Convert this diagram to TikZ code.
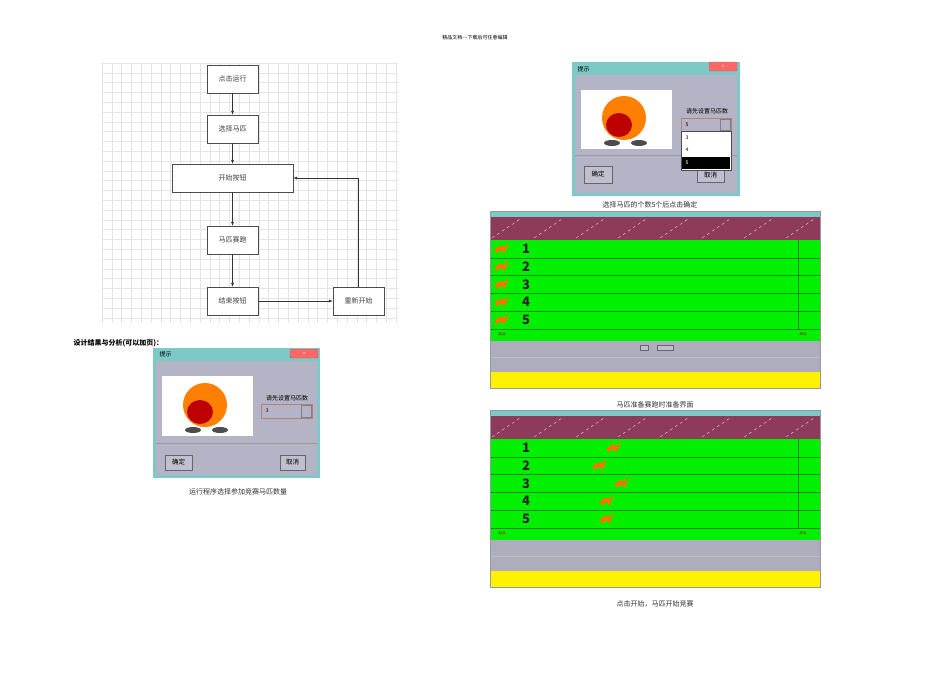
\documentclass[tikz,border=0pt]{standalone}
\usepackage{fontspec}
\newfontfamily\cjk{Noto Sans CJK SC}
\usetikzlibrary{arrows.meta}
\definecolor{dlgbg}{HTML}{B4B4C6}
\definecolor{dlgframe}{HTML}{7FC8C8}
\definecolor{maroon1}{HTML}{8E3A5A}
\definecolor{raceGreen}{HTML}{00F000}
\definecolor{raceGray}{HTML}{ADADBD}
\tikzset{
 flowbox/.style={draw=black!70,fill=white,minimum height=28pt,inner sep=0pt,font=\cjk\fontsize{7}{8}\selectfont,text=black!75},
 flowarrow/.style={-{Latex[length=4pt,width=3pt]},black!80,line width=0.5pt},
 caption/.style={font=\cjk\fontsize{7}{8}\selectfont,text=black!80},
 btn/.style={draw=black!60,fill=dlgbg!85,font=\cjk\fontsize{6.5}{7}\selectfont,inner sep=0pt},
 lanenum/.style={font=\cjk\bfseries\fontsize{13}{14}\selectfont,text=black!85},
 tiny/.style={font=\cjk\fontsize{3.5}{4}\selectfont,text=red!70!black},
 horse/.pic={\fill[orange!90!red] (-6,2) .. controls (-3,-4) and (3,-4) .. (5,-2) -- (7,-6) -- (8,-4) -- (6,1) -- (4,5) -- (3,2) -- (-1,2) -- (-3,5) -- (-4,2) -- cycle;}
}
\begin{document}
\begin{tikzpicture}[x=1pt,y=-1pt]
\useasboundingbox (0,0) rectangle (950,672);
\fill[white] (0,0) rectangle (950,672);
\node[font=\cjk\fontsize{5}{6}\selectfont] (hdr) at (475,38) {精品文档---下载后可任意编辑};
% grid
\foreach \gx in {0,...,30} {\draw[black!10,line width=0.4pt] (102+\gx*9.8,63) -- (102+\gx*9.8,323);}
\foreach \gy in {0,...,26} {\draw[black!10,line width=0.4pt] (102,63+\gy*9.8) -- (398,63+\gy*9.8);}
\node[flowbox,minimum width=51pt] (n1) at (232.5,79) {点击运行};
\node[flowbox,minimum width=51pt] (n2) at (232.5,129) {选择马匹};
\node[flowbox,minimum width=121pt] (n3) at (232.5,178) {开始按钮};
\node[flowbox,minimum width=51pt] (n4) at (232.5,240) {马匹赛跑};
\node[flowbox,minimum width=51pt] (n5) at (232.5,301) {结束按钮};
\node[flowbox,minimum width=51pt] (n6) at (358.5,301) {重新开始};
\draw[flowarrow] (n1) -- (n2);
\draw[flowarrow] (n2) -- (n3);
\draw[flowarrow] (n3) -- (n4);
\draw[flowarrow] (n4) -- (n5);
\draw[flowarrow] (n5) -- (n6);
\draw[flowarrow] (n6.north) |- (n3.east);
\node[anchor=west,font=\cjk\bfseries\fontsize{7}{8}\selectfont] (sec) at (70,343) {设计结果与分析(可以加页)：};
% dialog 1
\fill[dlgframe] (153,348) rectangle (320,478);
\fill[dlgbg] (156,361) rectangle (317,475);
\node[anchor=west,font=\cjk\fontsize{6}{7}\selectfont] (t1) at (156,354) {提示};
\fill[red!60!white,draw=black!50,rounded corners=1pt] (290,349) rectangle (318,358);
\node[font=\sffamily\fontsize{5}{5}\selectfont,text=white] (x1) at (304,353.5) {x};
\fill[white] (162,376) rectangle (253,436);
\fill[orange] (205,405) ellipse (22 and 22);
\fill[red!75!black] (200,412) ellipse (13 and 12);
\fill[black!70] (193,430) ellipse (8 and 3);\fill[black!70] (220,430) ellipse (8 and 3);
\node[font=\cjk\fontsize{6}{7}\selectfont] (l1) at (287,398) {请先设置马匹数};
\draw[red!40!black!50,fill=dlgbg] (261,404) rectangle (312,418);
\node[anchor=west,font=\sffamily\fontsize{5.5}{6}\selectfont] (c1) at (262,411) {3};
\draw[black!50] (301,405) rectangle (311,417);
\draw[black!40] (156,443) -- (317,443);
\node[btn,minimum width=27pt,minimum height=15pt] (b1) at (178.5,462.5) {确定};
\node[btn,minimum width=25pt,minimum height=15pt] (b2) at (292.5,462.5) {取消};
\node[caption] (cap1) at (238,492) {运行程序选择参加竞赛马匹数量};
% dialog 2
\fill[dlgframe] (572,62) rectangle (740,196);
\fill[dlgbg] (575,75) rectangle (737,193);
\node[anchor=west,font=\cjk\fontsize{6}{7}\selectfont] (t2) at (574,69) {提示};
\fill[red!60!white,draw=black!50,rounded corners=1pt] (709,62) rectangle (737,71);
\node[font=\sffamily\fontsize{5}{5}\selectfont,text=white] (x2) at (723,66.5) {x};
\fill[white] (581,90) rectangle (672,149);
\fill[orange] (624,118) ellipse (22 and 22);
\fill[red!75!black] (619,125) ellipse (13 and 12);
\fill[black!70] (612,143) ellipse (8 and 3);\fill[black!70] (639,143) ellipse (8 and 3);
\draw[black!40] (575,155) -- (737,155);
\node[btn,minimum width=28pt,minimum height=17pt] (b3) at (598,174.5) {确定};
\node[btn,minimum width=27pt,minimum height=15pt] (b4) at (710.5,175) {取消};
\node[font=\cjk\fontsize{6}{7}\selectfont] (l2) at (707,111) {请先设置马匹数};
\draw[red!40!black!50,fill=dlgbg] (681,118) rectangle (731,131);
\node[anchor=west,font=\sffamily\fontsize{5.5}{6}\selectfont] (c2) at (682,124.5) {5};
\draw[black!50] (720,119) rectangle (730,130);
\draw[black!70,fill=white] (681,131) rectangle (731,170);
\fill[black] (682,157) rectangle (730,169);
\node[anchor=west,font=\sffamily\fontsize{5.5}{6}\selectfont] (o3) at (682,138) {3};
\node[anchor=west,font=\sffamily\fontsize{5.5}{6}\selectfont] (o4) at (682,150) {4};
\node[anchor=west,font=\sffamily\fontsize{5.5}{6}\selectfont,text=white] (o5) at (682,163) {5};
\node[caption] (cap2) at (650,205) {选择马匹的个数5个后点击确定};
% race screens
\foreach \Y/\caption/\hx in {211/马匹准备赛跑时准备界面/{500,500,500,500,500}, 410/点击开始，马匹开始竞赛/{612,598,620,605,605}} {
  \fill[dlgframe] (490,\Y) rectangle (820,\Y+6);
  \fill[maroon1] (490,\Y+6) rectangle (820,\Y+29);
  \foreach \k in {0,...,7} {\draw[white!80!maroon1,dashed,line width=0.4pt] (492+\k*42,\Y+27) -- (520+\k*42,\Y+8);}
  \fill[raceGreen] (490,\Y+29) rectangle (820,\Y+130);
  \foreach \ly in {47,64,82,100,118} {\draw[green!55!black,line width=0.3pt] (490,\Y+\ly) -- (820,\Y+\ly);}
  \draw[green!55!black,line width=0.3pt] (798,\Y+29) -- (798,\Y+118);
  \foreach \n [count=\i] in {1,...,5} {\node[lanenum] at (526,\Y+20+\i*17.8) {\n};}
  \foreach \hxx [count=\i] in \hx {\pic at (\hxx,\Y+20+\i*17.8) {horse};}
  \node[tiny] at (502,\Y+123) {起点};
  \node[tiny] at (803,\Y+123) {终点};
  \fill[raceGray] (490,\Y+130) rectangle (820,\Y+161);
  \draw[black!25] (490,\Y+146) -- (820,\Y+146);
  \fill[yellow] (490,\Y+161) rectangle (820,\Y+177);
  \draw[black!40] (490,\Y) rectangle (820,\Y+177);
  \node[caption] at (655,\Y+194) {\caption};
}
\node[btn,minimum width=8pt,minimum height=5pt] (s1) at (644,348) {};
\node[btn,minimum width=16pt,minimum height=5pt] (s2) at (665,348) {};
\end{tikzpicture}
\end{document}
